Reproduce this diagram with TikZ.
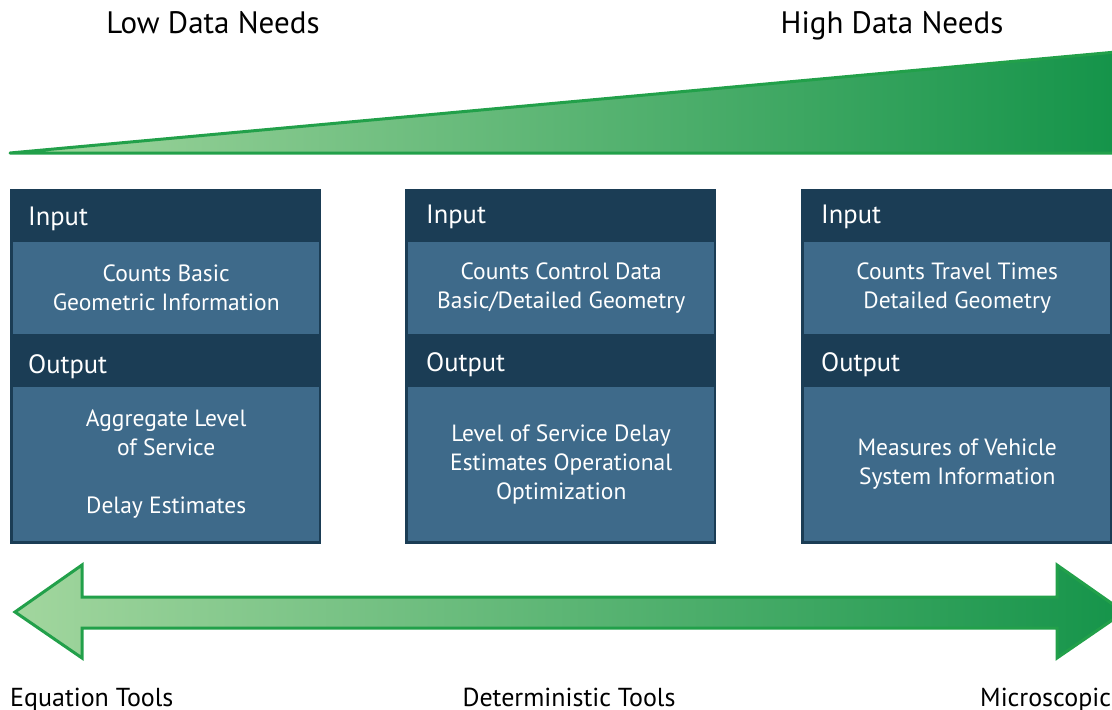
\documentclass[tikz,border=0pt]{standalone}
\usepackage{fontspec}
\setmainfont{PT Sans}
\usepackage{tikz, xcolor}

\definecolor{navy}{HTML}{1B3D55}
\definecolor{steel}{HTML}{3E6A8A}
\definecolor{palegreen}{HTML}{A2D69E}
\definecolor{deepgreen}{HTML}{15944A}
\definecolor{edgegreen}{HTML}{22A04A}

\begin{document}
\begin{tikzpicture}[x=1pt, y=-1pt,
    panel/.style={fill=navy, anchor=north west, inner sep=0, minimum width=311, minimum height=355},
    band/.style={fill=steel, anchor=north west, inner sep=0, minimum width=306, text=white, align=center, font=\fontsize{23.5}{29}\selectfont},
    head/.style={text=white, anchor=base west, inner sep=0, font=\fontsize{26.5}{30}\selectfont},
    tag/.style={inner sep=0, anchor=base, font=\fontsize{31}{36}\selectfont},
    tool/.style={inner sep=0, anchor=base, font=\fontsize{26}{30}\selectfont}]

    \useasboundingbox (0, 0) rectangle (1112, 710);
    \clip (0, 0) rectangle (1112, 710);

    % data needs wedge
    \node [tag] (low) at (213, 33) {Low Data Needs};
    \node [tag] (high) at (892, 33) {High Data Needs};
    \shade [left color=palegreen, right color=deepgreen] (10, 153) -- (1112, 52) -- (1112, 153) -- cycle;
    \draw [color=edgegreen, line width=3, line join=round] (1116, 52) -- (10, 153) -- (1116, 153);

    % equation tools
    \node [panel] (eq) at (10, 189) {};
    \node [head] (eqin) at (28, 225) {Input};
    \node [band, minimum height=92] (eqinb) at (13, 242) {Counts Basic\\Geometric Information};
    \node [head] (eqout) at (28, 373) {Output};
    \node [band, minimum height=154] (eqoutb) at (13, 387) {Aggregate Level\\of Service\\[29pt]Delay Estimates};

    % deterministic tools
    \node [panel] (det) at (405, 189) {};
    \node [head] (detin) at (426, 223) {Input};
    \node [band, minimum height=92] (detinb) at (408, 242) {Counts Control Data\\Basic/Detailed Geometry};
    \node [head] (detout) at (426, 371) {Output};
    \node [band, minimum height=154] (detoutb) at (408, 387) {Level of Service Delay\\Estimates Operational\\Optimization};

    % microscopic
    \node [panel] (mic) at (801, 189) {};
    \node [head] (micin) at (821, 223) {Input};
    \node [band, minimum height=92] (micinb) at (804, 242) {Counts Travel Times\\Detailed Geometry};
    \node [head] (micout) at (821, 371) {Output};
    \node [band, minimum height=154] (micoutb) at (804, 387) {Measures of Vehicle\\System Information};

    % tools arrow
    \shade [left color=palegreen, right color=deepgreen] (15, 612) -- (82, 565) -- (82, 597) -- (1057, 597) -- (1057, 565) -- (1124, 612) -- (1057, 658) -- (1057, 628) -- (82, 628) -- (82, 658) -- cycle;
    \draw [color=edgegreen, line width=3, line join=miter] (15, 612) -- (82, 565) -- (82, 597) -- (1057, 597) -- (1057, 565) -- (1124, 612) -- (1057, 658) -- (1057, 628) -- (82, 628) -- (82, 658) -- cycle;

    \node [tool, anchor=base west] (eqtools) at (10, 706) {Equation Tools};
    \node [tool] (dettools) at (569, 706) {Deterministic Tools};
    \node [tool, anchor=base west] (mictools) at (980, 706) {Microscopic};

  \end{tikzpicture}
\end{document}
